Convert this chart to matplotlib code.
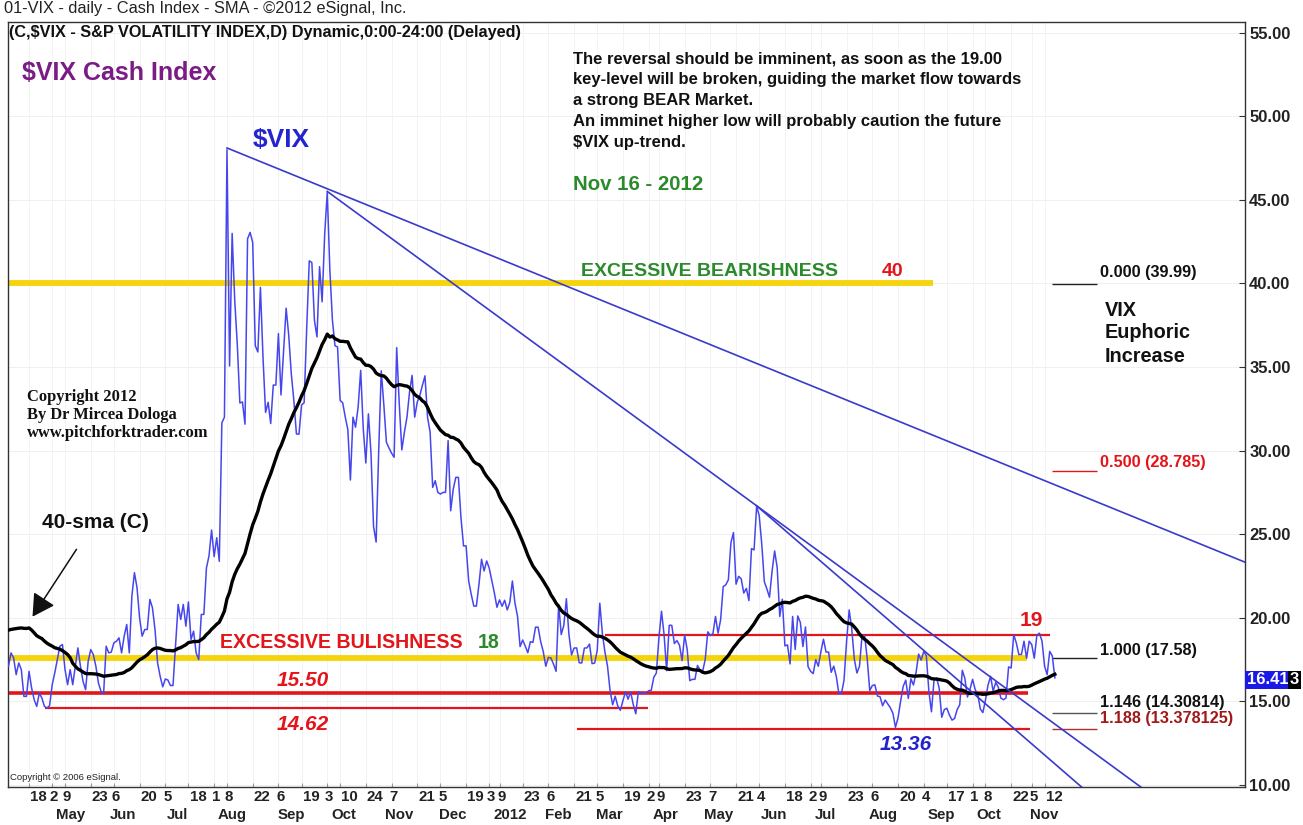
import numpy as np
import pandas as pd
import matplotlib
matplotlib.use("Agg")
import matplotlib.pyplot as plt
from matplotlib.transforms import blended_transform_factory

# ---------------- DATA ----------------
holidays = ["2011-02-21", "2011-04-22", "2011-05-30", "2011-07-04", "2011-09-05",
            "2011-11-24", "2011-12-26", "2012-01-02", "2012-01-16", "2012-02-20",
            "2012-04-06", "2012-05-28", "2012-07-04", "2012-09-03", "2012-10-29",
            "2012-10-30"]
start_date = "2011-02-07"
end_date = "2012-11-16"

vix_2011_02 = [16.4, 15.8, 16.2, 16.6, 15.7, 16.2, 16.4, 16.2, 15.6, 15.6, 20.8, 22.1, 21.3, 19.2, 18.4]
vix_2011_03 = [20.7, 19.6, 18.6, 19.1, 20.7, 19.0, 20.2, 21.9, 21.1, 21.1, 24.3, 29.4, 24.4, 24.4, 20.6,
               20.2, 19.2, 18.0, 17.9, 18.2, 17.6, 17.3, 17.7]
vix_2011_04 = [17.4, 17.5, 17.0, 17.1, 17.9, 17.6, 16.6, 17.3, 16.9, 15.3, 15.3, 16.8, 15.8, 15.1, 14.7,
               15.5, 15.2, 14.7, 14.6, 14.75]
vix_2011_05 = [15.99, 16.7, 17.5, 18.3, 18.4, 16.9, 16.0, 16.9, 16.0, 17.1, 18.2, 17.1, 16.2, 15.7, 17.4,
               18.1, 17.8, 17.1, 16.1, 15.6, 15.45]
vix_2011_06 = [18.3, 17.9, 17.95, 18.5, 18.6, 18.8, 17.9, 18.9, 19.6, 17.9, 21.3, 22.7, 21.8, 20.0, 18.9,
               19.3, 19.3, 21.1, 20.6, 19.3, 17.3, 16.5]
vix_2011_07 = [15.87, 16.34, 16.28, 15.95, 15.95, 18.39, 20.8, 19.9, 20.8, 19.5, 20.95, 18.7, 19.2, 17.9,
               17.5, 20.2, 20.2, 22.98, 23.7, 25.25]
vix_2011_08 = [23.66, 24.79, 23.38, 31.66, 32.0, 48.0, 35.06, 42.99, 39.0, 36.36, 32.85, 32.91, 31.58,
               42.67, 43.05, 42.44, 36.27, 35.9, 39.76, 35.59, 32.28, 32.89, 31.62]
vix_2011_09 = [33.92, 33.92, 37.0, 33.33, 35.91, 38.52, 36.91, 34.6, 33.0, 31.0, 30.98, 32.73, 32.86,
               37.32, 41.35, 41.25, 37.8, 36.8, 41.0, 38.9, 42.96]
vix_2011_10 = [45.45, 40.82, 37.81, 36.27, 36.2, 33.0, 32.86, 32.0, 31.26, 28.24, 32.0, 31.4, 32.6, 34.8,
               31.3, 29.26, 32.2, 29.86, 25.46, 24.53, 29.96]
vix_2011_11 = [34.77, 32.74, 30.5, 30.16, 29.85, 29.6, 36.16, 32.8, 30.04, 31.1, 32.0, 33.5, 34.5, 32.0,
               32.9, 33.3, 33.9, 34.47, 32.0, 31.1, 27.8]
vix_2011_12 = [28.2, 27.5, 27.4, 27.5, 27.5, 30.6, 26.4, 27.7, 28.4, 28.4, 26.0, 24.3, 24.3, 22.2, 21.4,
               20.7, 20.7, 22.0, 23.5, 22.8, 23.4]
vix_2012_01 = [22.97, 22.22, 21.48, 20.63, 21.07, 20.69, 21.05, 20.47, 20.91, 22.2, 20.89, 20.09, 18.28,
               18.67, 18.31, 17.91, 18.57, 18.53, 19.44, 19.44]
vix_2012_02 = [18.58, 17.98, 17.1, 17.63, 17.6, 17.23, 16.8, 20.79, 19.0, 19.54, 21.14, 19.0, 17.78,
               18.19, 18.2, 17.31, 17.3, 18.19, 18.2, 18.43]
vix_2012_03 = [17.26, 17.29, 18.05, 20.87, 19.07, 17.95, 17.11, 15.64, 14.8, 15.31, 14.72, 14.47, 15.04,
               15.58, 15.13, 15.57, 14.82, 14.26, 15.59, 15.47, 15.48, 15.5]
vix_2012_04 = [15.64, 15.66, 16.44, 16.7, 18.81, 20.39, 19.0, 16.84, 19.55, 19.55, 18.46, 18.64, 18.36,
               17.44, 18.97, 18.1, 16.24, 16.32, 16.32, 17.15]
vix_2012_05 = [16.88, 16.8, 17.5, 19.16, 18.94, 19.05, 20.08, 19.08, 19.89, 21.87, 21.97, 22.27, 24.49,
               25.1, 22.01, 22.48, 22.33, 21.48, 21.76, 21.03, 24.14, 24.06]
vix_2012_06 = [26.66, 26.12, 24.4, 22.16, 21.72, 21.23, 22.77, 24.0, 23.0, 20.08, 21.11, 18.32, 18.38,
               17.24, 20.08, 18.11, 20.11, 19.72, 18.28, 19.45, 17.08]
vix_2012_07 = [16.8, 16.66, 17.5, 17.1, 17.98, 18.72, 17.95, 17.95, 16.74, 17.11, 16.48, 15.45, 15.47,
               16.27, 18.62, 20.47, 19.34, 17.53, 16.7, 17.1, 18.93]
vix_2012_08 = [18.96, 17.57, 15.64, 15.95, 15.99, 15.32, 15.28, 14.74, 15.08, 14.85, 14.62, 14.29, 13.45,
               14.02, 15.0, 15.9, 16.27, 15.18, 16.35, 15.98, 16.71, 17.83, 17.47]
vix_2012_09 = [17.98, 17.74, 15.6, 14.38, 16.28, 16.41, 15.8, 14.05, 14.51, 14.59, 14.18, 13.88, 13.98,
               14.51, 14.8, 16.86, 16.37, 15.26, 15.73]
vix_2012_10 = [16.32, 15.71, 15.43, 14.55, 14.33, 15.07, 15.97, 16.5, 15.6, 16.14, 15.85, 15.2, 15.1,
               15.2, 17.06, 17.0, 18.99, 18.5, 17.8, 17.81, 18.6]
vix_2012_11 = [17.58, 18.6, 18.4, 17.58, 18.96, 19.08, 18.61, 17.1, 16.6, 17.99, 17.72, 16.41]

sma_window = 40

# horizontal key levels
bear_level = 40.0
bull_level = 17.58
support_1550 = 15.50
support_1462 = 14.62
support_1336 = 13.36
resist_19 = 19.0

# Fibonacci levels
fib_ratios = ["0.000", "0.500", "1.000", "1.146", "1.188"]
fib_values = ["39.99", "28.785", "17.58", "14.30814", "13.378125"]

# trend lines (date, value) anchors
trend_long = [("2011-08-08", 48.1), ("2011-10-03", 45.66)]
trend_mid = [("2011-10-03", 45.5), ("2012-06-01", 26.7)]
trend_short = [("2012-06-01", 26.7), ("2012-09-04", 18.05)]

tick_dates = ["2011-04-18", "2011-05-02", "2011-05-09", "2011-05-23", "2011-06-06", "2011-06-20",
              "2011-07-05", "2011-07-18", "2011-08-01", "2011-08-08", "2011-08-22", "2011-09-06",
              "2011-09-19", "2011-10-03", "2011-10-10", "2011-10-24", "2011-11-07", "2011-11-21",
              "2011-12-05", "2011-12-19", "2012-01-03", "2012-01-09", "2012-01-23", "2012-02-06",
              "2012-02-21", "2012-03-05", "2012-03-19", "2012-04-02", "2012-04-09", "2012-04-23",
              "2012-05-07", "2012-05-21", "2012-06-04", "2012-06-18", "2012-07-02", "2012-07-09",
              "2012-07-23", "2012-08-06", "2012-08-20", "2012-09-04", "2012-09-17", "2012-10-01",
              "2012-10-08", "2012-10-22", "2012-11-05", "2012-11-12"]
month_labels = ["May", "Jun", "Jul", "Aug", "Sep", "Oct", "Nov", "Dec", "2012", "Feb", "Mar",
                "Apr", "May", "Jun", "Jul", "Aug", "Sep", "Oct", "Nov"]
month_starts = ["2011-05", "2011-06", "2011-07", "2011-08", "2011-09", "2011-10", "2011-11",
                "2011-12", "2012-01", "2012-02", "2012-03", "2012-04", "2012-05", "2012-06",
                "2012-07", "2012-08", "2012-09", "2012-10", "2012-11"]
yticks = [10, 15, 20, 25, 30, 35, 40, 45, 50, 55]
last_label = "16.41"

# ---------------- BUILD ----------------
dates = pd.bdate_range(start_date, end_date, freq="C", holidays=holidays)
vix = np.array(vix_2011_02 + vix_2011_03 + vix_2011_04 + vix_2011_05 + vix_2011_06 + vix_2011_07 +
               vix_2011_08 + vix_2011_09 + vix_2011_10 + vix_2011_11 + vix_2011_12 + vix_2012_01 +
               vix_2012_02 + vix_2012_03 + vix_2012_04 + vix_2012_05 + vix_2012_06 + vix_2012_07 +
               vix_2012_08 + vix_2012_09 + vix_2012_10 + vix_2012_11)
assert len(vix) == len(dates), (len(vix), len(dates))
xs = np.arange(len(dates))
sma = pd.Series(vix).rolling(sma_window).mean().values


def di(d):
    return dates.get_loc(pd.Timestamp(d))


W, H = 1303, 825
AX_L, AX_R, AX_T, AX_B = 8, 1245, 22, 787
PXDAY = 2.571
xmin = di("2011-08-08") - (227 - AX_L) / PXDAY
xmax = xmin + (AX_R - AX_L) / PXDAY
Y0 = 10 - (AX_B - 785) / 16.72
Y1 = 10 + (785 - AX_T) / 16.72


def px2x(px):
    return xmin + (px - AX_L) / PXDAY


plt.rcParams['font.family'] = ['Liberation Sans', 'DejaVu Sans']
fig = plt.figure(figsize=(W / 100, H / 100), dpi=100)
ax = fig.add_axes([AX_L / W, (H - AX_B) / H, (AX_R - AX_L) / W, (AX_B - AX_T) / H])
ax.set_xlim(xmin, xmax)
ax.set_ylim(Y0, Y1)

# faint grid
for yv in yticks:
    ax.axhline(yv, color="#f0f0f0", lw=0.7, zorder=0)
for d in tick_dates:
    ax.axvline(di(d), color="#f3f3f3", lw=0.7, zorder=0)

# level lines
yellow = "#f6d40c"
red = "#e3151b"
ax.hlines(bear_level, px2x(8), px2x(933), color=yellow, lw=4.2, zorder=2)
ax.hlines(bull_level, px2x(8), px2x(1027), color=yellow, lw=4.2, zorder=2)
ax.hlines(support_1550, px2x(8), px2x(1028), color=red, lw=2.6, zorder=2)
ax.hlines(support_1462, px2x(45), px2x(648), color=red, lw=1.6, zorder=2)
ax.hlines(support_1336, px2x(577), px2x(1030), color=red, lw=1.6, zorder=2)
ax.hlines(resist_19, px2x(605), px2x(1050), color=red, lw=1.6, zorder=2)

# fib segments
fib_colors = ["#222222", "#e3151b", "#222222", "#555555", "#b03030"]
for v, c in zip(fib_values, fib_colors):
    ax.hlines(float(v), px2x(1052), px2x(1097), color=c, lw=1.0, zorder=2)

# VIX and SMA
ax.plot(xs, vix, color="#4646ee", lw=1.1, zorder=4)
ax.plot(xs, sma, color="black", lw=2.4, zorder=5)

# trend lines
tl_color = "#3a3acc"
for tl in (trend_long, trend_mid, trend_short):
    (d1, v1), (d2, v2) = tl
    x1, x2 = di(d1), di(d2)
    slope = (v2 - v1) / (x2 - x1)
    ax.plot([x1, xmax], [v1, v1 + slope * (xmax - x1)], color=tl_color, lw=1.2, zorder=6)

# axes styling
for s in ax.spines.values():
    s.set_color("#333333")
    s.set_linewidth(1.0)
ax.yaxis.tick_right()
ax.set_yticks(yticks)
ax.set_yticklabels([f"{v:.2f}" for v in yticks], fontsize=12, fontweight="bold", color="#222")
ax.tick_params(axis="y", length=4, direction="in", pad=3, color="#333")
tpos = [di(d) for d in tick_dates]
ax.set_xticks(tpos)
ax.set_xticklabels([])
ax.tick_params(axis="x", length=3, direction="in", color="#999")

trans = blended_transform_factory(ax.transData, ax.transAxes)
for d, p in zip(tick_dates, tpos):
    lab = str(pd.Timestamp(d).day)
    off = (2 if len(lab) == 1 else 9.5) / PXDAY
    ax.text(p + off, -(797 - AX_B) / (AX_B - AX_T), lab, transform=trans, ha="center", va="center",
            fontsize=10.8, fontweight="bold", color="#222")
for lab, ms in zip(month_labels, month_starts):
    first = dates[dates.strftime("%Y-%m") == ms][0]
    ax.text(dates.get_loc(first) + 1.5, -(815 - AX_B) / (AX_B - AX_T), lab, transform=trans,
            ha="left", va="center", fontsize=10.8, fontweight="bold", color="#222")


def ft(px, py, s, **kw):
    kw.setdefault("va", "center")
    kw.setdefault("ha", "left")
    fig.text(px / W, 1 - py / H, s, **kw)


ft(4, 9, "01-VIX - daily - Cash Index - SMA - ©2012 eSignal, Inc.", fontsize=11.8, color="#222")
ft(9, 33, "(C,$VIX - S&P VOLATILITY INDEX,D) Dynamic,0:00-24:00 (Delayed)", fontsize=11.7,
   fontweight="bold", color="#111")
ft(22, 73, "$VIX Cash Index", fontsize=18, fontweight="bold", color="#7a1b86")
ft(253, 140, "$VIX", fontsize=19, fontweight="bold", color="#2525d0")

note = ["The reversal should be imminent, as soon as the 19.00",
        "key-level will be broken, guiding the market flow towards",
        "a strong BEAR Market.",
        "An imminet higher low will probably caution the future",
        "$VIX up-trend."]
for i, line in enumerate(note):
    ft(573, 59 + i * 20.8, line, fontsize=12, fontweight="bold", color="#111")
ft(573, 185, "Nov 16 - 2012", fontsize=14.7, fontweight="bold", color="#2b8a2b")
ft(581, 271, "EXCESSIVE BEARISHNESS", fontsize=14, fontweight="bold", color="#2b8a2b")
ft(882, 271, "40", fontsize=14, fontweight="bold", color=red)

fib_text_y = [272, 462, 650, 703, 718]
fib_text_c = ["#111111", "#e3151b", "#111111", "#111111", "#a01818"]
for r, v, py, c in zip(fib_ratios, fib_values, fib_text_y, fib_text_c):
    ft(1100, py, f"{r} ({v})", fontsize=11.7, fontweight="bold", color=c)

for i, w in enumerate(["VIX", "Euphoric", "Increase"]):
    ft(1105, 310 + i * 23, w, fontsize=14.3, fontweight="bold", color="#111")

for i, w in enumerate(["Copyright 2012", "By Dr Mircea Dologa", "www.pitchforktrader.com"]):
    ft(27, 397 + i * 18, w, fontsize=11.9, fontweight="bold", color="#111",
       family=["Liberation Serif", "DejaVu Serif"])

ft(42, 522, "40-sma (C)", fontsize=15, fontweight="bold", color="#111")
fig.add_artist(matplotlib.patches.FancyArrowPatch(
    (78 / W, 1 - 547 / H), (31 / W, 1 - 619 / H), transform=fig.transFigure,
    arrowstyle="-|>,head_length=8,head_width=4.5", color="#111", lw=1.1, mutation_scale=1.7))

ft(220, 643, "EXCESSIVE BULISHNESS", fontsize=14.1, fontweight="bold", color=red)
ft(478, 643, "18", fontsize=14.1, fontweight="bold", color="#2b8a2b")
ft(277, 681, "15.50", fontsize=15, fontweight="bold", style="italic", color=red)
ft(277, 725, "14.62", fontsize=15, fontweight="bold", style="italic", color=red)
ft(880, 745, "13.36", fontsize=15, fontweight="bold", style="italic", color="#2222cc")
ft(1020, 620, "19", fontsize=15, fontweight="bold", color=red)
ft(10, 778, "Copyright © 2006 eSignal.", fontsize=6.8, color="#222")

ft(1247, 680, last_label, fontsize=12, fontweight="bold", color="white",
   bbox=dict(boxstyle="square,pad=0.1", fc="#1a1ae6", ec="none"))
ft(1290, 680, "3", fontsize=12, fontweight="bold", color="white",
   bbox=dict(boxstyle="square,pad=0.1", fc="black", ec="none"))

fig.savefig("out.png", dpi=100)
